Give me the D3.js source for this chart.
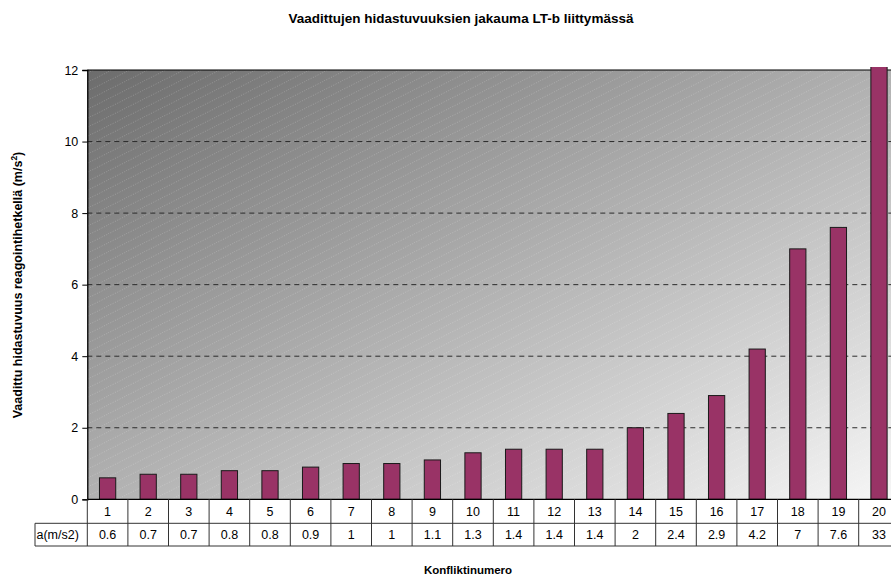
<!DOCTYPE html>
<html>
<head>
<meta charset="utf-8">
<script src="https://cdn.jsdelivr.net/npm/d3@7"></script>
<style>
  html, body { margin: 0; padding: 0; background: #fff; }
  svg { display: block; font-family: Arial, "Liberation Sans", sans-serif; }
</style>
</head>
<body>
<svg id="chart" width="891" height="577"></svg>
<script>
// Conflict numbers and the required deceleration for each (m/s²)
const conflicts = [1, 2, 3, 4, 5, 6, 7, 8, 9, 10, 11, 12, 13, 14, 15, 16, 17, 18, 19, 20];
const decel = [0.6, 0.7, 0.7, 0.8, 0.8, 0.9, 1, 1, 1.1, 1.3, 1.4, 1.4, 1.4, 2, 2.4, 2.9, 4.2, 7, 7.6, 33];
const yTicks = [0, 2, 4, 6, 8, 10, 12];

const titleText = "Vaadittujen hidastuvuuksien jakauma LT-b liittymässä";
const xTitle = "Konfliktinumero";
const rowLabel = "a(m/s2)";

const svg = d3.select("#chart");

const plot = { left: 87.3, top: 70, bottom: 499.3 };
const step = 40.6;
const plotRight = plot.left + step * conflicts.length;
const row1Bottom = 523.3, row2Bottom = 546, tableLeft = 35;

const x = d3.scaleBand().domain(conflicts).range([plot.left, plotRight]).padding(0);
const y = d3.scaleLinear().domain([0, 12]).range([plot.bottom, plot.top]);

// Background gradient and faint dotted diagonal hatch
const defs = svg.append("defs");
const grad = defs.append("linearGradient").attr("id", "bg")
  .attr("x1", 0).attr("y1", 0).attr("x2", 1).attr("y2", 1);
grad.append("stop").attr("offset", 0).attr("stop-color", "#6c6c6c");
grad.append("stop").attr("offset", 1).attr("stop-color", "#f7f7f7");

const hatch = defs.append("pattern").attr("id", "hatch")
  .attr("patternUnits", "userSpaceOnUse").attr("width", 18).attr("height", 9);
hatch.append("line").attr("x1", 0).attr("y1", 9).attr("x2", 18).attr("y2", 0)
  .attr("stroke", "#ffffff").attr("stroke-opacity", 0.28)
  .attr("stroke-width", 0.8).attr("stroke-dasharray", "1,1.6");

defs.append("clipPath").attr("id", "plotClip").append("rect")
  .attr("x", plot.left).attr("y", plot.top - 3)
  .attr("width", plotRight - plot.left).attr("height", plot.bottom - plot.top + 3);

svg.append("rect").attr("x", plot.left).attr("y", plot.top)
  .attr("width", plotRight - plot.left).attr("height", plot.bottom - plot.top)
  .attr("fill", "url(#bg)");
svg.append("rect").attr("x", plot.left).attr("y", plot.top)
  .attr("width", plotRight - plot.left).attr("height", plot.bottom - plot.top)
  .attr("fill", "url(#hatch)");

// Dashed gridlines
svg.append("g").selectAll("line")
  .data(yTicks.filter(t => t > 0 && t < 12))
  .join("line")
  .attr("x1", plot.left).attr("x2", plotRight)
  .attr("y1", d => y(d)).attr("y2", d => y(d))
  .attr("stroke", "#2a2a2a").attr("stroke-width", 1)
  .attr("stroke-dasharray", "5,4");

// Top border of plot area
svg.append("line").attr("x1", plot.left).attr("x2", plotRight)
  .attr("y1", plot.top).attr("y2", plot.top)
  .attr("stroke", "#000").attr("stroke-width", 1.2);

// Bars
const bw = x.bandwidth() * 0.4;
svg.append("g").attr("clip-path", "url(#plotClip)")
  .selectAll("rect")
  .data(conflicts.map((c, i) => ({ c, v: decel[i] })))
  .join("rect")
  .attr("x", d => x(d.c) + (x.bandwidth() - bw) / 2)
  .attr("width", bw)
  .attr("y", d => y(d.v))
  .attr("height", d => y(0) - y(d.v))
  .attr("fill", "#993366")
  .attr("stroke", "#1a1a1a").attr("stroke-width", 1);

// Y axis
const yAxis = d3.axisLeft(y).tickValues(yTicks).tickSize(5).tickPadding(4).tickFormat(d3.format("d"));
const gy = svg.append("g").attr("transform", `translate(${plot.left},0)`).call(yAxis);
gy.select(".domain").attr("stroke", "#000").attr("stroke-width", 1.3);
gy.selectAll(".tick line").attr("stroke", "#000");
gy.selectAll(".tick text").attr("font-size", 12.5).attr("fill", "#000")
  .attr("font-family", "Arial, 'Liberation Sans', sans-serif");

// X axis line
svg.append("line").attr("x1", plot.left).attr("x2", plotRight)
  .attr("y1", plot.bottom).attr("y2", plot.bottom)
  .attr("stroke", "#000").attr("stroke-width", 1.3);

// Data table below the axis
const table = svg.append("g");
const gridColor = "#333";
// column separators
table.selectAll("line.col")
  .data(d3.range(conflicts.length + 1))
  .join("line")
  .attr("class", "col")
  .attr("x1", i => plot.left + i * x.step()).attr("x2", i => plot.left + i * x.step())
  .attr("y1", plot.bottom).attr("y2", row2Bottom)
  .attr("stroke", gridColor).attr("stroke-width", 1);
// row separators
table.append("line").attr("x1", tableLeft).attr("x2", plotRight)
  .attr("y1", row1Bottom).attr("y2", row1Bottom).attr("stroke", gridColor);
table.append("line").attr("x1", tableLeft).attr("x2", plotRight)
  .attr("y1", row2Bottom).attr("y2", row2Bottom).attr("stroke", gridColor);
table.append("line").attr("x1", tableLeft).attr("x2", tableLeft)
  .attr("y1", row1Bottom).attr("y2", row2Bottom).attr("stroke", gridColor);

table.selectAll("text.cat")
  .data(conflicts)
  .join("text")
  .attr("class", "cat")
  .attr("x", d => x(d) + x.bandwidth() / 2)
  .attr("y", (plot.bottom + row1Bottom) / 2 + 4.5)
  .attr("text-anchor", "middle").attr("font-size", 12.5)
  .text(d => d);

table.selectAll("text.val")
  .data(conflicts.map((c, i) => ({ c, v: decel[i] })))
  .join("text")
  .attr("class", "val")
  .attr("x", d => x(d.c) + x.bandwidth() / 2)
  .attr("y", (row1Bottom + row2Bottom) / 2 + 4.5)
  .attr("text-anchor", "middle").attr("font-size", 12.5)
  .text(d => d.v);

table.append("text")
  .attr("x", tableLeft + 1.5)
  .attr("y", (row1Bottom + row2Bottom) / 2 + 4.5)
  .attr("font-size", 12.5)
  .text(rowLabel);

// Titles
svg.append("text")
  .attr("x", 461).attr("y", 23)
  .attr("text-anchor", "middle").attr("font-size", 13.5).attr("font-weight", "bold")
  .text(titleText);

svg.append("text")
  .attr("x", 468).attr("y", 574)
  .attr("text-anchor", "middle").attr("font-size", 11.5).attr("font-weight", "bold")
  .text(xTitle);

const yt = svg.append("text")
  .attr("transform", "translate(22,285) rotate(-90)")
  .attr("text-anchor", "middle").attr("font-size", 12.5).attr("font-weight", "bold");
yt.append("tspan").text("Vaadittu hidastuvuus reagointihetkellä (m/s");
yt.append("tspan").attr("dy", -5).attr("font-size", 8.5).text("2");
yt.append("tspan").attr("dy", 5).text(")");
</script>
</body>
</html>
